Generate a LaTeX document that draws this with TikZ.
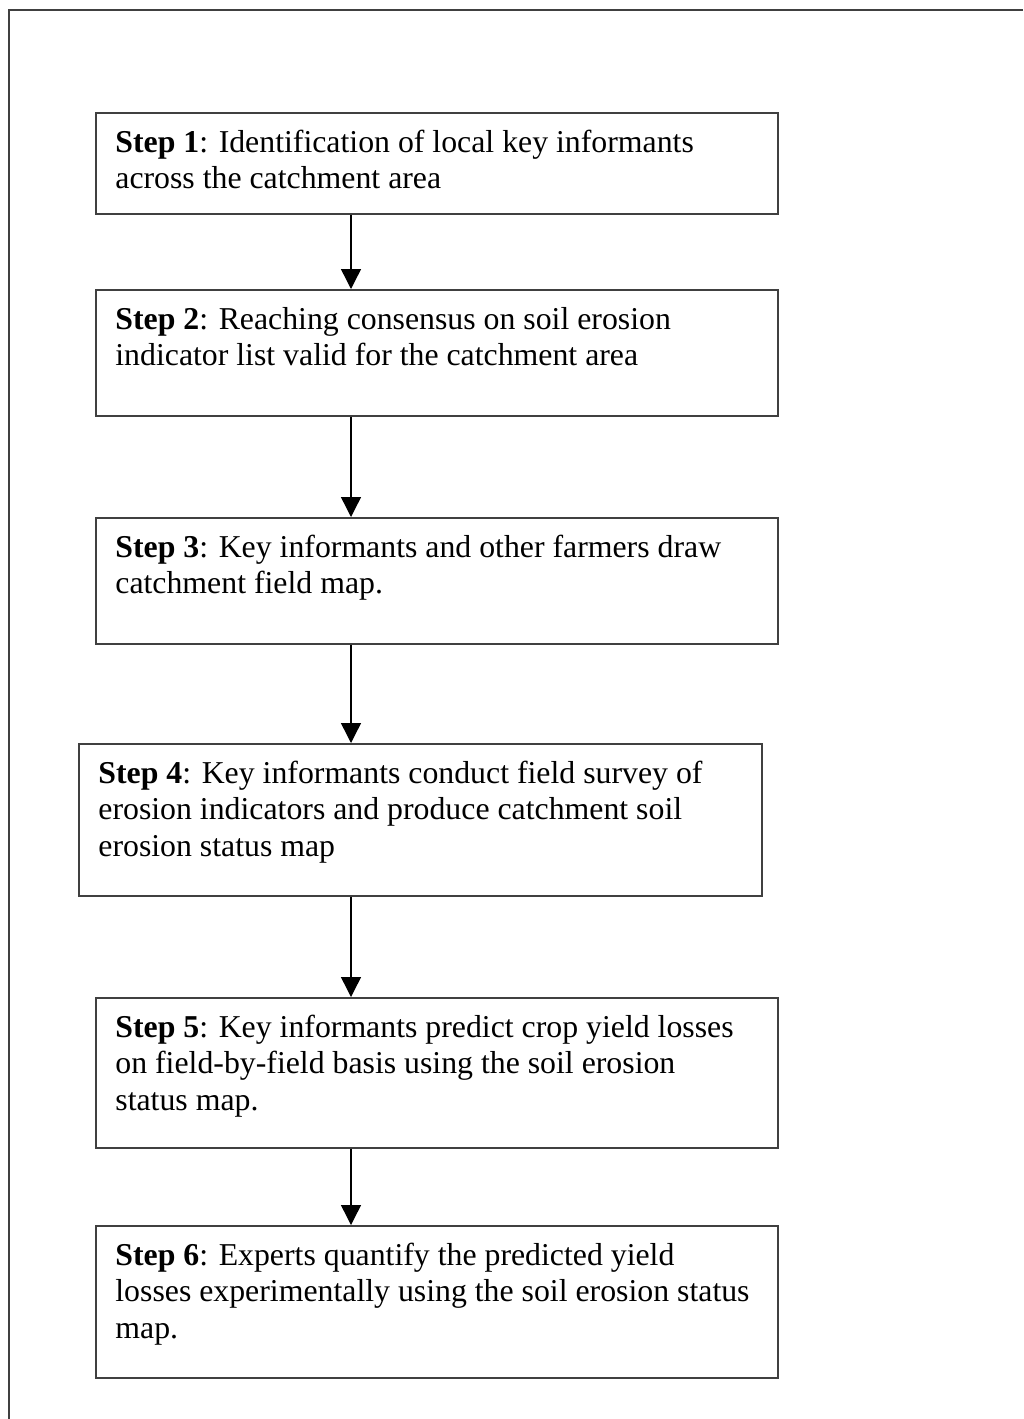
\documentclass[tikz,border=0pt]{standalone}
\usepackage{fontspec}
\setmainfont{Liberation Serif}
\usetikzlibrary{arrows.meta}
\definecolor{framegray}{HTML}{404040}
\tikzset{
  stepbox/.style={draw=framegray, line width=0.8pt, rectangle, inner sep=0pt, anchor=north west},
  steptext/.style={anchor=base west, inner sep=0pt, align=left, font=\fontsize{15.9}{18.25}\selectfont},
  flow/.style={draw=black, line width=0.7pt, -{Triangle[width=10pt,length=10pt]}}
}
\newcommand{\stp}[1]{\textbf{Step #1}}
\newcommand{\lines}[1]{\begin{tabular}[t]{@{}l@{}}#1\end{tabular}}
\begin{document}
\begin{tikzpicture}[x=0.5pt,y=-0.5pt]
\useasboundingbox (0,0) rectangle (1023,1419);
% outer frame (only top and left edges visible)
\draw[framegray, line width=1pt] (9,1419) -- (9,10) -- (1023,10);
\coordinate (ax) at (351,0);
% boxes
\node[stepbox, minimum width=341pt, minimum height=50.5pt] (b1) at (95,112) {};
\node[stepbox, minimum width=341pt, minimum height=63pt] (b2) at (95,289) {};
\node[stepbox, minimum width=341pt, minimum height=63pt] (b3) at (95,517) {};
\node[stepbox, minimum width=341.5pt, minimum height=76pt] (b4) at (78,743) {};
\node[stepbox, minimum width=341pt, minimum height=75pt] (b5) at (95,997) {};
\node[stepbox, minimum width=341pt, minimum height=76pt] (b6) at (95,1225) {};
% texts
\node[steptext] (t1) at (115,152) {\lines{\stp{1}: Identification of local key informants\\across the catchment area}};
\node[steptext] (t2) at (115,329) {\lines{\stp{2}: Reaching consensus on soil erosion\\indicator list valid for the catchment area}};
\node[steptext] (t3) at (115,557) {\lines{\stp{3}: Key informants and other farmers draw\\catchment field map.}};
\node[steptext] (t4) at (98,783) {\lines{\stp{4}: Key informants conduct field survey of\\erosion indicators and produce catchment soil\\erosion status map}};
\node[steptext] (t5) at (115,1037) {\lines{\stp{5}: Key informants predict crop yield losses\\on field-by-field basis using the soil erosion\\status map.}};
\node[steptext] (t6) at (115,1265) {\lines{\stp{6}: Experts quantify the predicted yield\\losses experimentally using the soil erosion status\\map.}};
% connectors
\draw[flow] (b1.south -| ax) -- (b2.north -| ax);
\draw[flow] (b2.south -| ax) -- (b3.north -| ax);
\draw[flow] (b3.south -| ax) -- (b4.north -| ax);
\draw[flow] (b4.south -| ax) -- (b5.north -| ax);
\draw[flow] (b5.south -| ax) -- (b6.north -| ax);
\end{tikzpicture}
\end{document}
